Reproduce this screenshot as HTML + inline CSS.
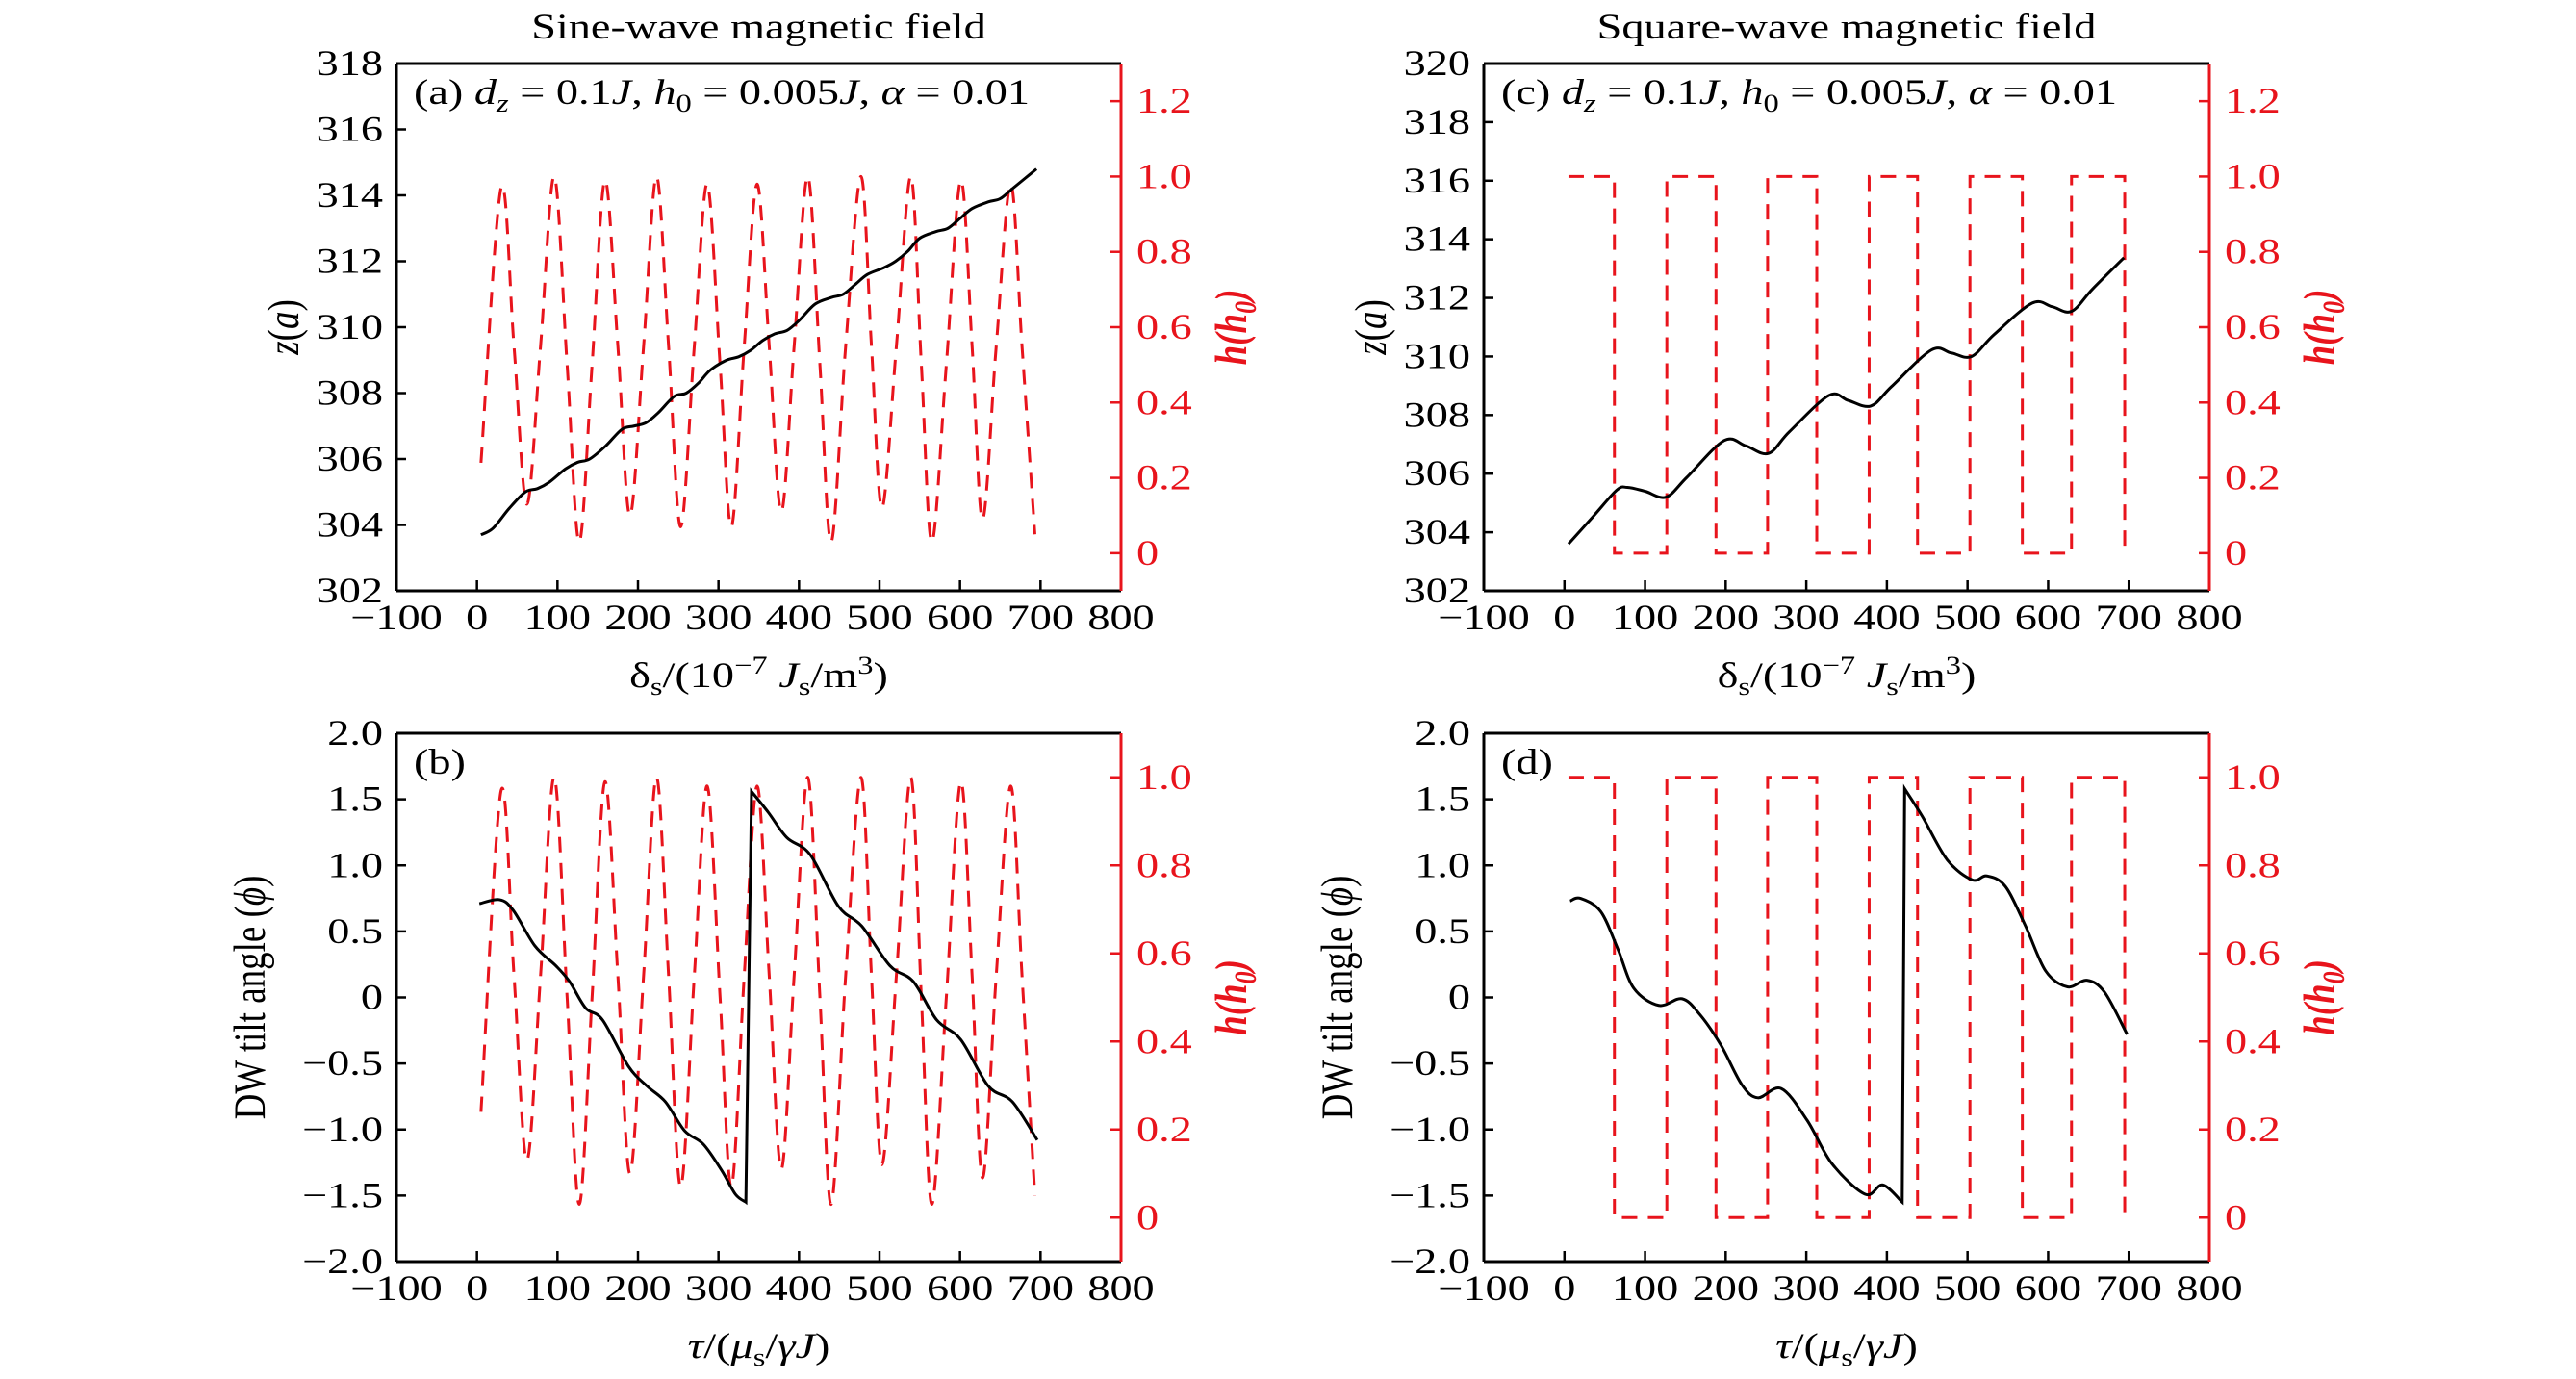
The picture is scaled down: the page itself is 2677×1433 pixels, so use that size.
<!DOCTYPE html>
<html><head><meta charset="utf-8"><title>DW dynamics</title>
<style>
html,body{margin:0;padding:0;background:#fff;}
svg{display:block;}
text{font-family:"Liberation Serif",serif;}
</style></head>
<body>
<svg id="fig" width="2677" height="1433" viewBox="0 0 2677 1433" xmlns="http://www.w3.org/2000/svg"></svg>
<script>
// ---------- data ----------
const sineX = [5,30,46,62,79,96,112,127,143,159,175,190,207,223,238,253,270,286,302,316,332,348,363,378,394,411,426,440,458,477,490,503,521,539,552,565,583,601,615,628,645,663,677,693];
const sineH = [0.24,0.97,0.55,0.13,0.55,1.0,0.5,0.03,0.5,0.99,0.55,0.10,0.55,1.0,0.55,0.07,0.55,0.98,0.5,0.07,0.55,0.98,0.55,0.11,0.55,1.0,0.5,0.03,0.55,1.0,0.55,0.12,0.55,1.0,0.5,0.03,0.5,0.99,0.55,0.09,0.55,0.98,0.55,0.05];
const sqBreaks = [5,62,127,188,252,313,378,438,503,568,629,695];
const sqLevels = [1,0,1,0,1,0,1,0,1,0,1,0];
const zaX = [5,20,40,60,75,90,110,125,140,160,180,195,210,225,245,260,275,290,310,325,340,355,370,385,400,420,440,455,470,485,505,520,535,550,570,585,600,615,635,650,665,680,695];
const zaY = [303.7,303.9,304.5,305.0,305.1,305.3,305.7,305.9,306.0,306.4,306.9,307.0,307.1,307.4,307.9,308.0,308.3,308.7,309.0,309.1,309.3,309.6,309.8,309.9,310.2,310.7,310.9,311.0,311.3,311.6,311.8,312.0,312.3,312.7,312.9,313.0,313.3,313.6,313.8,313.9,314.2,314.5,314.8];
const zcX = [5,36,65,78,100,126,152,198,225,253,279,328,352,380,406,455,480,505,533,580,605,629,655,694];
const zcY = [303.6,304.55,305.44,305.53,305.4,305.2,305.88,307.13,306.95,306.69,307.43,308.67,308.5,308.31,308.98,310.22,310.12,310.0,310.75,311.82,311.7,311.54,312.3,313.37];
const phiB1X = [3,28,45,72,98,115,135,156,188,211,234,258,281,304,321,334];
const phiB1Y = [0.71,0.74,0.66,0.39,0.24,0.12,-0.08,-0.17,-0.52,-0.67,-0.79,-1.01,-1.11,-1.31,-1.49,-1.55];
const phiB2X = [341,362,385,414,449,478,513,542,571,601,635,665,696];
const phiB2Y = [1.56,1.40,1.21,1.08,0.69,0.54,0.24,0.12,-0.17,-0.32,-0.67,-0.79,-1.08];
const phiD1X = [7,20,45,66,86,117,146,168,194,220,240,269,301,332,373,395,419];
const phiD1Y = [0.73,0.75,0.65,0.37,0.07,-0.06,-0.01,-0.13,-0.36,-0.66,-0.76,-0.69,-0.93,-1.26,-1.49,-1.42,-1.55];
const phiD2X = [422,444,475,506,524,547,572,597,624,648,670,698];
const phiD2Y = [1.58,1.37,1.04,0.89,0.92,0.84,0.54,0.20,0.08,0.13,0.04,-0.28];
const xTicks = [-100,0,100,200,300,400,500,600,700,800];
const zaTicks = [302,304,306,308,310,312,314,316,318];
const zcTicks = [302,304,306,308,310,312,314,316,318,320];
const phiTicks = [-2,-1.5,-1,-0.5,0,0.5,1,1.5,2];
const hTicksTop = [0,0.2,0.4,0.6,0.8,1.0,1.2];
const hTicksBot = [0,0.2,0.4,0.6,0.8,1.0];

const NS="http://www.w3.org/2000/svg";
const svg=document.getElementById('fig');
function mk(tag,attrs,parent){const e=document.createElementNS(NS,tag);for(const k in attrs)e.setAttribute(k,attrs[k]);(parent||svg).appendChild(e);return e;}
const SX=1.25;
const FS=37;
function txt(s,x,y,size,anchor,fill,parent,extra){
  const t=mk('text',Object.assign({'font-size':size,'text-anchor':anchor,fill:fill,transform:`translate(${x},${y}) scale(${SX},1)`},extra||{}),parent);
  t.innerHTML=s;return t;
}
function smooth(pts){
  let d=`M${pts[0][0]},${pts[0][1]}`;
  for(let i=0;i<pts.length-1;i++){
    const p0=pts[Math.max(i-1,0)],p1=pts[i],p2=pts[i+1],p3=pts[Math.min(i+2,pts.length-1)];
    const c1=[p1[0]+(p2[0]-p0[0])/6,p1[1]+(p2[1]-p0[1])/6];
    const c2=[p2[0]-(p3[0]-p1[0])/6,p2[1]-(p3[1]-p1[1])/6];
    d+=` C${c1[0]},${c1[1]} ${c2[0]},${c2[1]} ${p2[0]},${p2[1]}`;
  }
  return d;
}
function fmt(v){ if(v===0) return '0'; const s=(Math.abs(v)%1===0 && Math.abs(v)>=100)?String(Math.abs(v)):Math.abs(v).toFixed(1); return (v<0?'−':'')+s; }

function panel(o){
  const g=mk('g',{});
  
  
  const L=o.L,R=o.R,T=o.T,B=o.B;
  const xs=v=>L+(v+100)/900*(R-L);
  const ys=v=>B-(v-o.ymin)/(o.ymax-o.ymin)*(B-T);
  const hs=v=>B-(v-o.hmin)/(o.hmax-o.hmin)*(B-T);
  const clip='clip'+o.id;
  const cp=mk('clipPath',{id:clip},g); mk('rect',{x:L,y:T,width:R-L,height:B-T},cp);
  let fd;
  if(o.square){
    fd=`M${xs(sqBreaks[0])},${hs(sqLevels[0])}`;
    for(let i=1;i<sqBreaks.length;i++){fd+=` H${xs(sqBreaks[i])} V${hs(sqLevels[i])}`;}
  } else {
    fd=smooth(sineX.map((x,i)=>[xs(x),hs(sineH[i])]));
  }
  const fp=mk('path',{d:fd,fill:'none',stroke:'#e8141c','stroke-width':3,'stroke-dasharray':'16 11','clip-path':`url(#${clip})`},g);
  
  
  let md='';
  o.series.forEach((s,k)=>{
    const p=smooth(s[0].map((x,i)=>[xs(x),ys(s[1][i])]));
    md+= k===0? p : ' L'+p.slice(1);
  });
  const mp=mk('path',{d:md,fill:'none',stroke:'#000','stroke-width':3},g);
  
  
  mk('line',{x1:L,y1:T,x2:R,y2:T,stroke:'#000','stroke-width':3},g);
  mk('line',{x1:L,y1:B,x2:R,y2:B,stroke:'#000','stroke-width':3},g);
  mk('line',{x1:L,y1:T,x2:L,y2:B,stroke:'#000','stroke-width':3},g);
  mk('line',{x1:R,y1:T,x2:R,y2:B,stroke:'#e8141c','stroke-width':3},g);
  xTicks.forEach(v=>{
    const x=xs(v);
    if(v>-100&&v<800) mk('line',{x1:x,y1:B,x2:x,y2:B-11,stroke:'#000','stroke-width':2.5},g);
    const t=txt(fmt(v),x,B+40,FS,'middle','#000',g);
    
    
  });
  o.yTicks.forEach(v=>{
    const y=ys(v);
    if(v>o.ymin&&v<o.ymax) mk('line',{x1:L,y1:y,x2:L+10,y2:y,stroke:'#000','stroke-width':2.5},g);
    const t=txt(fmt(v),L-14,y+12,FS,'end','#000',g);
    
    
  });
  o.hTicks.forEach(v=>{
    const y=hs(v);
    mk('line',{x1:R,y1:y,x2:R-11,y2:y,stroke:'#e8141c','stroke-width':2.5},g);
    const t=txt(fmt(v),R+16,y+12,FS,'start','#e8141c',g);
    
    
  });
  const xl=txt(o.xlabel,(L+R)/2,B+100,FS,'middle','#000',g);
  
  
  const yl=mk('text',{'font-size':FS,'text-anchor':'middle',fill:'#000',transform:`translate(${o.ylx},${(T+B)/2}) rotate(-90) scale(1,${SX})`},g);
  yl.innerHTML=o.ylabel;
  
  
  const hl=mk('text',{'font-size':FS,'text-anchor':'middle',fill:'#e8141c','font-weight':'bold','font-style':'italic',transform:`translate(${R+130},${(T+B)/2}) rotate(-90) scale(1,${SX})`},g);
  hl.innerHTML='h(h<tspan font-size="26" dy="8">0</tspan><tspan dy="-8">)</tspan>';
  
  
  const an=txt(o.annot,L+18,T+42,FS,'start','#000',g);
  
  
  if(o.title){
    const ti=txt(o.title,(L+R)/2,40,FS,'middle','#000',g);
    
    
  }
}
const ann=l=>`(${l}) <tspan font-style="italic">d</tspan><tspan font-style="italic" font-size="26" dy="8">z</tspan><tspan dy="-8"> = 0.1</tspan><tspan font-style="italic">J</tspan>, <tspan font-style="italic">h</tspan><tspan font-size="26" dy="8">0</tspan><tspan dy="-8"> = 0.005</tspan><tspan font-style="italic">J</tspan>, <tspan font-style="italic">α</tspan> = 0.01`;
const xlTop='δ<tspan font-size="26" dy="8">s</tspan><tspan dy="-8">/(10</tspan><tspan font-size="26" dy="-14">−7</tspan><tspan dy="14"> </tspan><tspan font-style="italic">J</tspan><tspan font-size="26" dy="8">s</tspan><tspan dy="-8">/m</tspan><tspan font-size="26" dy="-14">3</tspan><tspan dy="14">)</tspan>';
const xlBot='<tspan font-style="italic">τ</tspan>/(<tspan font-style="italic">μ</tspan><tspan font-size="26" dy="8">s</tspan><tspan dy="-8">/</tspan><tspan font-style="italic">γJ</tspan>)';
const zl='<tspan font-style="italic">z</tspan>(<tspan font-style="italic">a</tspan>)';
const pl='DW tilt angle (<tspan font-style="italic">ϕ</tspan>)';
panel({id:'a',name:'panel-a',L:412,R:1165,T:66,B:614,ymin:302,ymax:318,hmin:-0.1,hmax:1.3,yTicks:zaTicks,hTicks:hTicksTop,square:false,series:[[zaX,zaY]],xlabel:xlTop,ylabel:zl,ylx:310,annot:ann('a'),title:'Sine-wave magnetic field'});
panel({id:'c',name:'panel-c',L:1542,R:2296,T:66,B:614,ymin:302,ymax:320,hmin:-0.1,hmax:1.3,yTicks:zcTicks,hTicks:hTicksTop,square:true,series:[[zcX,zcY]],xlabel:xlTop,ylabel:zl,ylx:1440,annot:ann('c'),title:'Square-wave magnetic field'});
panel({id:'b',name:'panel-b',L:412,R:1165,T:762,B:1311,ymin:-2,ymax:2,hmin:-0.1,hmax:1.1,yTicks:phiTicks,hTicks:hTicksBot,square:false,series:[[phiB1X,phiB1Y],[phiB2X,phiB2Y]],xlabel:xlBot,ylabel:pl,ylx:275,annot:'(b)'});
panel({id:'d',name:'panel-d',L:1542,R:2296,T:762,B:1311,ymin:-2,ymax:2,hmin:-0.1,hmax:1.1,yTicks:phiTicks,hTicks:hTicksBot,square:true,series:[[phiD1X,phiD1Y],[phiD2X,phiD2Y]],xlabel:xlBot,ylabel:pl,ylx:1405,annot:'(d)'});
</script>
</body></html>
